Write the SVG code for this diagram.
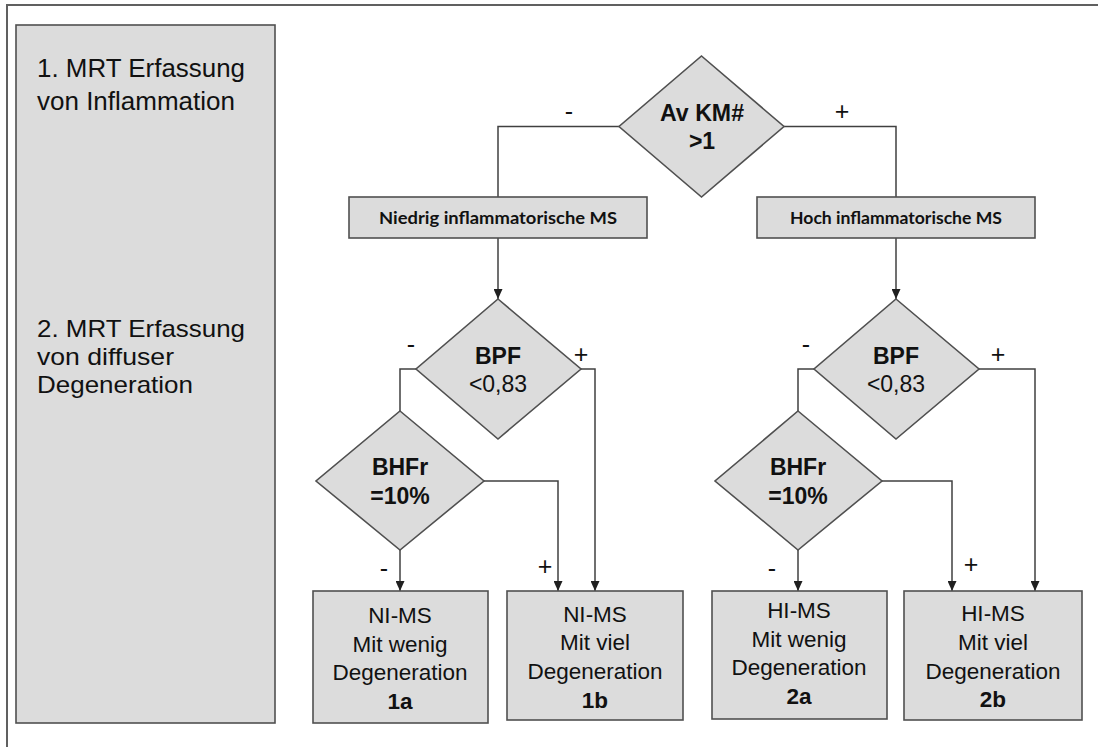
<svg xmlns="http://www.w3.org/2000/svg" width="1098" height="747" viewBox="0 0 1098 747">
<style>
.box{fill:#dcdcdc;stroke:#505050;stroke-width:1.6}
.frame{fill:none;stroke:#606060;stroke-width:2}
.conn{fill:none;stroke:#404040;stroke-width:1.5}
.t{font-family:"Liberation Sans",Arial,sans-serif;fill:#111;text-anchor:middle}
.tl{font-family:"Liberation Sans",Arial,sans-serif;fill:#111;font-size:26px}
.tl2{font-family:"Liberation Sans",Arial,sans-serif;fill:#111;font-size:24px}
.c{font-family:Lato,"Open Sans",sans-serif;font-weight:bold;font-size:17px;fill:#111;text-anchor:middle}
.b{font-weight:bold}
.n{font-size:22.5px}
.d{font-size:23px}
.s{font-family:"Liberation Sans",Arial,sans-serif;font-size:25px;fill:#111;text-anchor:middle}
</style>
<defs>
<marker id="arr" markerWidth="10" markerHeight="9" refX="10" refY="4.5" orient="auto" markerUnits="userSpaceOnUse">
<path d="M0,0 L10,4.5 L0,9 z" fill="#202020"/>
</marker>
</defs>
<rect width="1098" height="747" fill="#fff"/>
<rect class="frame" x="7" y="5" width="1100" height="760"/>

<g id="left-panel">
<rect class="box" x="16" y="25" width="259" height="698"/>
<text class="tl" x="37" y="77" textLength="208" lengthAdjust="spacingAndGlyphs">1. MRT Erfassung</text>
<text class="tl" x="37" y="110" textLength="198" lengthAdjust="spacingAndGlyphs">von Inflammation</text>
<text class="tl2" x="37" y="337" textLength="208" lengthAdjust="spacingAndGlyphs">2. MRT Erfassung</text>
<text class="tl2" x="37" y="365" textLength="137" lengthAdjust="spacingAndGlyphs">von diffuser</text>
<text class="tl2" x="37" y="393" textLength="156" lengthAdjust="spacingAndGlyphs">Degeneration</text>
</g>

<g id="connectors">
<path class="conn" d="M619,126.5 H498 V197"/>
<path class="conn" d="M784,126.5 H896 V197"/>
<path class="conn" d="M498,238 V299" marker-end="url(#arr)"/>
<path class="conn" d="M896,238 V299" marker-end="url(#arr)"/>
<path class="conn" d="M416,369 H400 V411"/>
<path class="conn" d="M581,369 H595 V591" marker-end="url(#arr)"/>
<path class="conn" d="M484,481 H558 V591" marker-end="url(#arr)"/>
<path class="conn" d="M400,550 V591" marker-end="url(#arr)"/>
<path class="conn" d="M814,369 H798 V411"/>
<path class="conn" d="M979,369 H1035 V591" marker-end="url(#arr)"/>
<path class="conn" d="M882,481 H952 V591" marker-end="url(#arr)"/>
<path class="conn" d="M798,550 V591" marker-end="url(#arr)"/>
<text class="s" x="569" y="120">-</text>
<text class="s" x="842" y="120">+</text>
<text class="s" x="411" y="353">-</text>
<text class="s" x="581" y="363">+</text>
<text class="s" x="806" y="353">-</text>
<text class="s" x="998" y="363">+</text>
<text class="s" x="384" y="577">-</text>
<text class="s" x="545" y="575">+</text>
<text class="s" x="772" y="577">-</text>
<text class="s" x="971" y="573">+</text>
</g>

<g id="d-avkm">
<polygon class="box" points="701.5,56 784,126.5 701.5,197 619,126.5"/>
<text class="t b d" x="702" y="121" textLength="84" lengthAdjust="spacingAndGlyphs">Av KM#</text>
<text class="t b d" x="702" y="149">&gt;1</text>
</g>

<g id="niedrig">
<rect class="box" x="349" y="197" width="298" height="41"/>
<text class="c" x="498" y="224" textLength="238" lengthAdjust="spacingAndGlyphs">Niedrig inflammatorische MS</text>
</g>

<g id="hoch">
<rect class="box" x="757" y="197" width="278" height="41"/>
<text class="c" x="896" y="224" textLength="212" lengthAdjust="spacingAndGlyphs">Hoch inflammatorische MS</text>
</g>

<g id="d-bpf-left">
<polygon class="box" points="498,299 581,369 498,439 416,369"/>
<text class="t b d" x="498" y="364">BPF</text>
<text class="t d" x="498" y="392">&lt;0,83</text>
</g>

<g id="d-bpf-right">
<polygon class="box" points="896,299 979,369 896,439 814,369"/>
<text class="t b d" x="896" y="364">BPF</text>
<text class="t d" x="896" y="392">&lt;0,83</text>
</g>

<g id="d-bhfr-left">
<polygon class="box" points="400,411 484,481 400,550 316,481"/>
<text class="t b d" x="400" y="475">BHFr</text>
<text class="t b d" x="400" y="504">=10%</text>
</g>

<g id="d-bhfr-right">
<polygon class="box" points="798,411 882,481 798,550 715,481"/>
<text class="t b d" x="798" y="475">BHFr</text>
<text class="t b d" x="798" y="504">=10%</text>
</g>

<g id="box-1a">
<rect class="box" x="313" y="591" width="175" height="132"/>
<text class="t n" x="400" y="623">NI-MS</text>
<text class="t n" x="400" y="652">Mit wenig</text>
<text class="t n" x="400" y="680">Degeneration</text>
<text class="t n b" x="400" y="709">1a</text>
</g>

<g id="box-1b">
<rect class="box" x="507" y="591" width="176" height="129"/>
<text class="t n" x="595" y="622">NI-MS</text>
<text class="t n" x="595" y="650">Mit viel</text>
<text class="t n" x="595" y="679">Degeneration</text>
<text class="t n b" x="595" y="708">1b</text>
</g>

<g id="box-2a">
<rect class="box" x="712" y="591" width="175" height="128"/>
<text class="t n" x="799" y="618">HI-MS</text>
<text class="t n" x="799" y="647">Mit wenig</text>
<text class="t n" x="799" y="675">Degeneration</text>
<text class="t n b" x="799" y="704">2a</text>
</g>

<g id="box-2b">
<rect class="box" x="904" y="591" width="178" height="129"/>
<text class="t n" x="993" y="621">HI-MS</text>
<text class="t n" x="993" y="650">Mit viel</text>
<text class="t n" x="993" y="679">Degeneration</text>
<text class="t n b" x="993" y="707">2b</text>
</g>
</svg>
